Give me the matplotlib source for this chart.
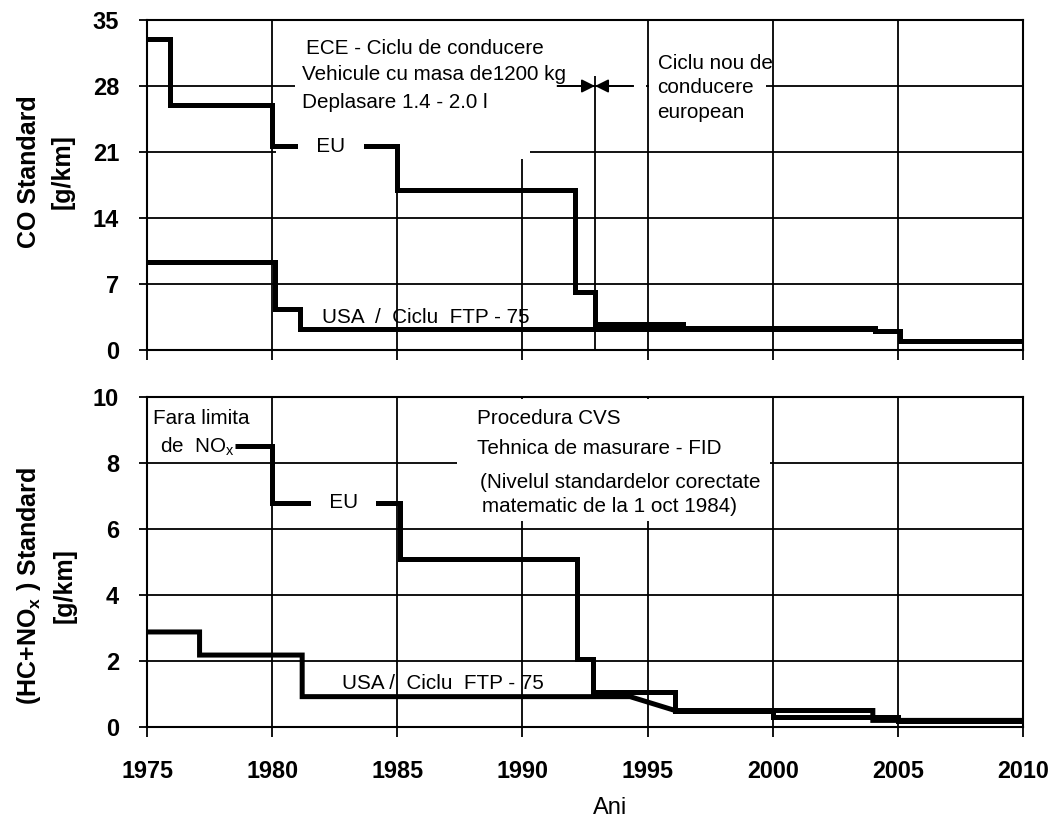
import matplotlib

matplotlib.use("Agg")

import matplotlib.pyplot as plt
from matplotlib.patches import Rectangle

plt.rcParams["font.family"] = ["Liberation Sans", "DejaVu Sans"]
plt.rcParams["mathtext.fontset"] = "custom"
plt.rcParams["mathtext.rm"] = "Liberation Sans"
plt.rcParams["mathtext.bf"] = "Liberation Sans:bold"

# CO standard [g/km]; each level holds from its year until the next year
co_eu_years = [1975, 1975.9, 1980.0, 1985.0, 1992.1, 1992.9, 1996.4, 2004.1, 2005.1, 2010]
co_eu_vals = [33, 26, 21.6, 17, 6.1, 2.8, 2.3, 2.0, 1.0, 1.0]
co_usa_years = [1975, 1980.1, 1981.1, 2004.1]
co_usa_vals = [9.3, 4.3, 2.2, 2.2]

# HC+NOx standard [g/km]
hc_eu_years = [1978.5, 1980.0, 1985.1, 1992.2, 1992.8, 1996.1, 2000.0, 2005.0, 2010]
hc_eu_vals = [8.5, 6.8, 5.1, 2.05, 1.07, 0.5, 0.3, 0.18, 0.18]
# the USA curve has a sloped piece, so keep its corner points
hc_usa_x = [1975, 1977.1, 1977.1, 1981.2, 1981.2, 1994.3, 1996.1, 2004.0, 2004.0, 2010]
hc_usa_y = [2.88, 2.88, 2.18, 2.18, 0.92, 0.92, 0.5, 0.5, 0.2, 0.2]

x_ticks = [1975, 1980, 1985, 1990, 1995, 2000, 2005, 2010]
co_ticks = [0, 7, 14, 21, 28, 35]
hc_ticks = [0, 2, 4, 6, 8, 10]

LW = 3.6
GRID_LW = 1.3
TXT = 14.9

fig = plt.figure(figsize=(10.54, 8.30), dpi=100)
ax1 = fig.add_axes([147 / 1054, 480 / 830, 876 / 1054, 330 / 830])
ax2 = fig.add_axes([147 / 1054, 103 / 830, 876 / 1054, 330 / 830])

for ax, ticks in ((ax1, co_ticks), (ax2, hc_ticks)):
    ax.set_xlim(1975, 2010)
    ax.set_ylim(ticks[0], ticks[-1])
    ax.set_xticks(x_ticks)
    ax.set_yticks(ticks)
    ax.set_axisbelow(True)
    ax.grid(True, color="black", lw=GRID_LW)
    for sp in ax.spines.values():
        sp.set_linewidth(1.5)
    ax.tick_params(axis="x", direction="out", length=7, width=1.3, pad=17)
    ax.tick_params(axis="y", direction="out", length=6, width=1.3, pad=14)
    for lab in ax.get_xticklabels():
        lab.set_fontweight("bold")
        lab.set_fontsize(16.8)
    for lab in ax.get_yticklabels():
        lab.set_fontweight("bold")
        lab.set_fontsize(17)

ax1.tick_params(axis="x", labelbottom=False)


def mask(ax, x0, x1, y0, y1):
    ax.add_patch(Rectangle((x0, y0), x1 - x0, y1 - y0, facecolor="white",
                           edgecolor="none", zorder=1))


line_kw = dict(color="black", lw=LW, zorder=3, solid_joinstyle="miter", solid_capstyle="butt")
label_box = dict(facecolor="white", edgecolor="none", boxstyle="square,pad=0.05")

# ---- top panel: CO ----
mask(ax1, 1980.9, 1991.4, 24.5, 34.9)
mask(ax1, 1980.15, 1990.3, 20.3, 24.5)
mask(ax1, 1994.45, 1994.95, 27, 29)
mask(ax1, 1995.05, 1999.75, 24, 34.9)

ax1.step(co_eu_years, co_eu_vals, where="post", **line_kw)
ax1.step(co_usa_years, co_usa_vals, where="post", **line_kw)

ax1.vlines(1992.9, 0, 29.1, color="black", lw=GRID_LW, zorder=2)
arrow = dict(arrowstyle="-|>", color="black", lw=GRID_LW, mutation_scale=20, shrinkA=0, shrinkB=0)
ax1.annotate("", xy=(1992.9, 28), xytext=(1991.4, 28), arrowprops=arrow, zorder=2)
ax1.annotate("", xy=(1992.9, 28), xytext=(1994.4, 28), arrowprops=arrow, zorder=2)

ax1.text(1981.35, 32.0, "ECE - Ciclu de conducere", fontsize=TXT, va="center", zorder=4)
ax1.text(1981.2, 29.2, "Vehicule cu masa de1200 kg", fontsize=TXT, va="center", zorder=4)
ax1.text(1981.2, 26.3, "Deplasare 1.4 - 2.0 l", fontsize=TXT, va="center", zorder=4)
ax1.text(1995.4, 30.4, "Ciclu nou de", fontsize=TXT, va="center", zorder=4)
ax1.text(1995.4, 27.8, "conducere", fontsize=TXT, va="center", zorder=4)
ax1.text(1995.4, 25.2, "european", fontsize=TXT, va="center", zorder=4)
ax1.text(1982.35, 21.6, "   EU   ", fontsize=TXT, ha="center", va="center", zorder=4,
         bbox=label_box)
ax1.text(1982.0, 3.5, "USA  /  Ciclu  FTP - 75", fontsize=TXT, va="center", zorder=4)

# ---- bottom panel: HC+NOx ----
mask(ax2, 1987.4, 1999.9, 6.25, 9.95)

ax2.step(hc_eu_years, hc_eu_vals, where="post", **line_kw)
ax2.plot(hc_usa_x, hc_usa_y, **line_kw)

ax2.text(1975.25, 9.36, "Fara limita", fontsize=TXT, va="center", zorder=4)
ax2.text(1975.5, 8.5, "de  NO$_{\\mathrm{x}}$", fontsize=TXT, va="center", zorder=4)
ax2.text(1982.85, 6.8, "   EU   ", fontsize=TXT, ha="center", va="center", zorder=4,
         bbox=label_box)
ax2.text(1988.2, 9.36, "Procedura CVS", fontsize=TXT, va="center", zorder=4)
ax2.text(1988.2, 8.45, "Tehnica de masurare - FID", fontsize=TXT, va="center", zorder=4)
ax2.text(1988.3, 7.4, "(Nivelul standardelor corectate", fontsize=TXT, va="center", zorder=4)
ax2.text(1988.4, 6.67, "matematic de la 1 oct 1984)", fontsize=TXT, va="center", zorder=4)
ax2.text(1982.8, 1.33, "USA /  Ciclu  FTP - 75", fontsize=TXT, va="center", zorder=4)

# ---- axis titles ----
fig.text(46 / 1054, 1 - 172 / 830, "CO Standard\n[g/km]", rotation=90, ha="center",
         va="center", fontsize=18, fontweight="bold", linespacing=1.5, multialignment="center")
fig.text(46 / 1054, 1 - 586 / 830, "(HC+NO$_{\\mathbf{x}}$ ) Standard\n[g/km]", rotation=90,
         ha="center", va="center", fontsize=18, fontweight="bold", linespacing=1.5,
         multialignment="center")
fig.text(610 / 1054, 1 - 808 / 830, "Ani", ha="center", va="center", fontsize=17)

fig.savefig("out.png", dpi=100)
